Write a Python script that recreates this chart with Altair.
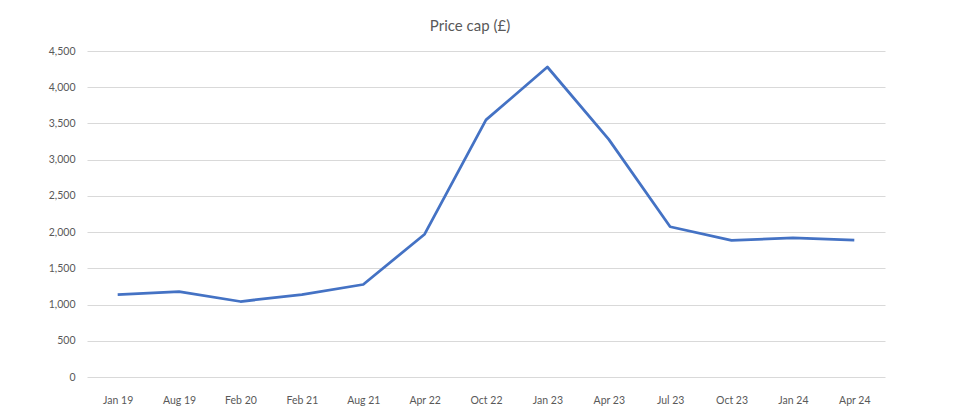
import altair as alt
import pandas as pd

months = ["Jan 19", "Aug 19", "Feb 20", "Feb 21", "Aug 21", "Apr 22", "Oct 22",
          "Jan 23", "Apr 23", "Jul 23", "Oct 23", "Jan 24", "Apr 24"]
price_cap = [1137, 1179, 1042, 1138, 1277, 1971, 3549, 4279, 3280, 2074, 1885, 1920, 1890]
y_ticks = [0, 500, 1000, 1500, 2000, 2500, 3000, 3500, 4000, 4500]

df = pd.DataFrame({"month": months, "value": price_cap})

FONT = "Lato"
GREY = "#595959"

chart = alt.Chart(df).mark_line(color="#4472C4", strokeWidth=2.75, strokeJoin="round").encode(
    x=alt.X("month:N", sort=months,
            scale=alt.Scale(type="point", padding=0.5),
            axis=alt.Axis(title=None, labelAngle=0, ticks=False, domain=False, grid=False,
                          labelFont=FONT, labelFontSize=10.5, labelColor=GREY, labelPadding=18)),
    y=alt.Y("value:Q",
            scale=alt.Scale(domain=[0, 4500], nice=False),
            axis=alt.Axis(title=None, values=y_ticks, format=",.0f", ticks=False, domain=False,
                          gridColor="#d9d9d9", gridWidth=1,
                          labelFont=FONT, labelFontSize=10.5, labelColor=GREY, labelPadding=12)),
).properties(
    width=798, height=326,
    title=alt.TitleParams("Price cap (£)", font=FONT, fontSize=15, fontWeight="normal",
                          color=GREY, anchor="middle", dx=-16, offset=12),
    autosize=alt.AutoSizeParams(type="none"),
    padding={"left": 79, "top": 43, "right": 60, "bottom": 30},
).configure_view(stroke=None)

chart.save("out.html", embed_options={"renderer": "svg", "actions": False})
